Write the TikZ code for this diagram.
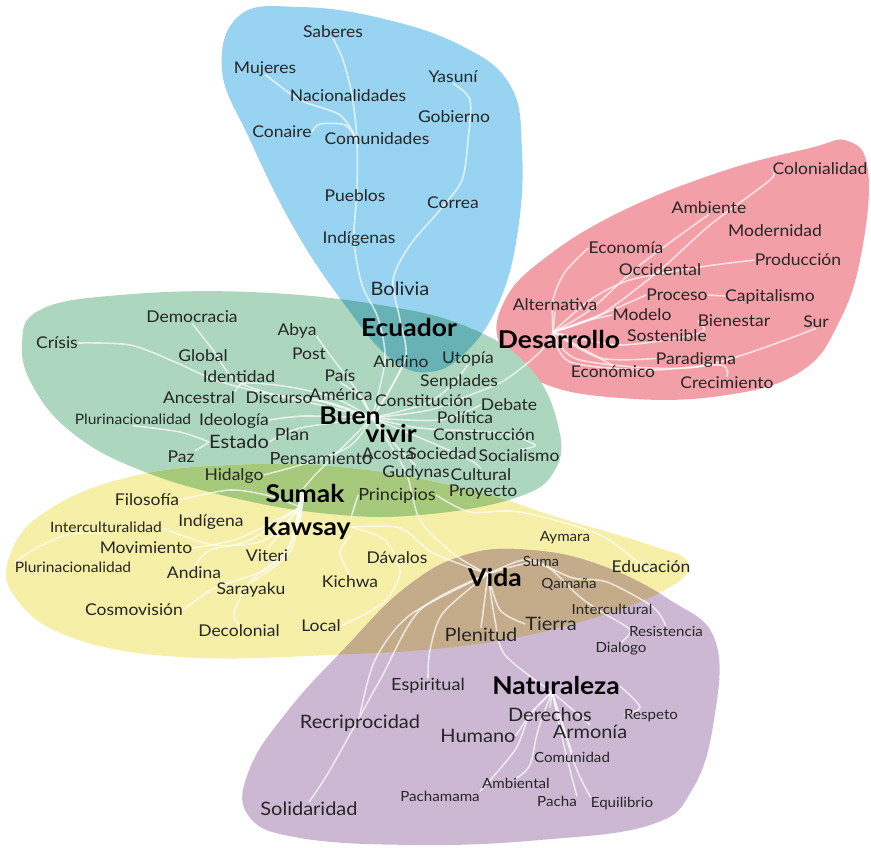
\documentclass[tikz,border=0pt]{standalone}
\usepackage{fontspec}
\setmainfont{Lato}[FakeStretch=1.08]
\usetikzlibrary{backgrounds}
\pgfdeclarelayer{blobs}
\pgfdeclarelayer{links}
\pgfsetlayers{blobs,links,main}
\definecolor{cblue}{HTML}{98D4F1}
\definecolor{cred}{HTML}{F29FA7}
\definecolor{cgreen}{HTML}{ADD6BE}
\definecolor{cyellow}{HTML}{F5EFA7}
\definecolor{cpurple}{HTML}{CCB8D3}
\definecolor{cteal}{HTML}{67B2B4}
\definecolor{cgy}{HTML}{A6C97C}
\definecolor{cbrown}{HTML}{C4AC8A}
\definecolor{txt}{HTML}{262626}
\def\blobBlue{plot[smooth cycle, tension=0.7] coordinates {(240,15) (300,7) (380,18) (460,45) (510,85) (522,150) (518,230) (500,300) (468,350) (430,372) (390,358) (345,305) (295,230) (250,140) (222,70)}}
\def\blobRed{plot[smooth cycle, tension=0.7] coordinates {(848,141) (868,170) (862,250) (840,320) (800,372) (720,396) (620,398) (540,382) (500,345) (505,300) (545,258) (620,212) (720,172) (810,148)}}
\def\blobGreen{plot[smooth cycle, tension=0.7] coordinates {(40,310) (120,295) (250,292) (380,305) (470,328) (530,368) (558,425) (555,470) (515,498) (420,515) (330,514) (230,497) (140,470) (75,435) (35,390) (22,345)}}
\def\blobYellow{plot[smooth cycle, tension=0.7] coordinates {(10,555) (45,512) (125,478) (230,465) (350,468) (470,490) (560,518) (650,545) (688,563) (665,590) (580,622) (470,645) (330,655) (180,657) (70,637) (15,597)}}
\def\blobPurple{plot[smooth cycle, tension=0.7] coordinates {(465,555) (530,550) (600,565) (670,600) (715,640) (714,720) (692,790) (650,825) (540,840) (420,845) (300,838) (248,815) (250,768) (290,708) (345,648) (405,588)}}
\tikzset{
  w/.style={inner sep=0pt, text height=11.7pt, text depth=0.6pt, text=txt, font=\fontsize{16.2}{16.2}\selectfont},
  wn/.style={inner sep=0pt, text height=10.4pt, text depth=0.6pt, text=txt, font=\fontsize{14.4}{14.4}\selectfont},
  xs/.style={inner sep=0pt, text height=10.1pt, text depth=0.6pt, text=txt, font=\fontsize{14}{14}\selectfont},
  mm/.style={inner sep=0pt, text height=12.1pt, text depth=0.7pt, text=txt, font=\fontsize{16.8}{16.8}\selectfont},
  m/.style={inner sep=0pt, text height=13.3pt, text depth=0.7pt, text=txt, font=\fontsize{18.5}{18.5}\selectfont},
  hb/.style={inner sep=0pt, text height=17.1pt, text depth=0pt, text=black, font=\fontsize{24.5}{24.5}\selectfont\bfseries},
  link/.style={draw=white, opacity=0.68, line width=1.6pt},
}
\begin{document}
\begin{tikzpicture}[x=1pt,y=-1pt]
\useasboundingbox (0,0) rectangle (871,848);
% ---------------- blobs
\begin{pgfonlayer}{blobs}
\fill[cblue] \blobBlue;
\fill[cred] \blobRed;
\fill[cgreen] \blobGreen;
\fill[cyellow] \blobYellow;
\fill[cpurple] \blobPurple;
\begin{scope}\clip \blobGreen; \fill[cteal] \blobBlue; \end{scope}
\begin{scope}\clip \blobGreen; \fill[cgy] \blobYellow; \end{scope}
\begin{scope}\clip \blobYellow; \fill[cbrown] \blobPurple; \end{scope}
\end{pgfonlayer}
% ---------------- words: blue
\node[w] (saberes) at (333,32) {Saberes};
\node[w] (mujeres) at (265,68) {Mujeres};
\node[w] (nacionalidades) at (348,96) {Nacionalidades};
\node[w] (yasuni) at (453,77) {Yasuní};
\node[w] (gobierno) at (454,117) {Gobierno};
\node[w] (conaire) at (282,132) {Conaire};
\node[w] (comunidades) at (377,139) {Comunidades};
\node[w] (pueblos) at (355,196) {Pueblos};
\node[w] (correa) at (453,203) {Correa};
\node[w] (indigenas) at (359,238) {Indígenas};
\node[m] (bolivia) at (400,289) {Bolivia};
\node[hb] (ecuador) at (409,328) {Ecuador};
% green
\node[w] (democracia) at (192,317) {Democracia};
\node[w] (crisis) at (57,343) {Crísis};
\node[w] (abya) at (297,330) {Abya};
\node[w] (global) at (203,356) {Global};
\node[w] (post) at (309,354) {Post};
\node[w] (identidad) at (239,377) {Identidad};
\node[w] (pais) at (340,376) {País};
\node[w] (ancestral) at (199,398) {Ancestral};
\node[w] (discurso) at (279,398) {Discurso};
\node[w] (america) at (341,395) {América};
\node[w] (andino) at (401,362) {Andino};
\node[w] (utopia) at (468,358) {Utopía};
\node[w] (senplades) at (459,381) {Senplades};
\node[w] (constitucion) at (424,401) {Constitución};
\node[w] (debate) at (509,405) {Debate};
\node[wn] (pluri1) at (133,420) {Plurinacionalidad};
\node[w] (ideologia) at (234,420) {Ideología};
\node[hb] (buen) at (350,416) {Buen};
\node[hb] (vivir) at (391,433.5) {vivir};
\node[w] (politica) at (465,418) {Política};
\node[m] (estado) at (239,442) {Estado};
\node[mm] (plan) at (292,435) {Plan};
\node[w] (construccion) at (484,435) {Construcción};
\node[w] (acosta) at (388,454) {Acosta};
\node[w] (sociedad) at (442,454) {Sociedad};
\node[w] (socialismo) at (519,456) {Socialismo};
\node[w] (paz) at (181,457) {Paz};
\node[mm] (pensamiento) at (321,459) {Pensamiento};
\node[w] (gudynas) at (416,472) {Gudynas};
\node[w] (cultural) at (481,475) {Cultural};
\node[w] (proyecto) at (483,491) {Proyecto};
\node[w] (hidalgo) at (234,475) {Hidalgo};
% yellow
\node[hb] (sumak) at (305,494) {Sumak};
\node[hb] (kawsay) at (307,527) {kawsay};
\node[mm] (principios) at (397,495) {Principios};
\node[w] (filosofia) at (147,500) {Filosofía};
\node[w] (indigena) at (211,521) {Indígena};
\node[wn] (intercult) at (106,528) {Interculturalidad};
\node[w] (movimiento) at (146,548) {Movimiento};
\node[w] (viteri) at (267,556) {Viteri};
\node[w] (davalos) at (397,558) {Dávalos};
\node[wn] (pluri2) at (73,568) {Plurinacionalidad};
\node[w] (andina) at (194,573) {Andina};
\node[w] (sarayaku) at (251,589) {Sarayaku};
\node[w] (kichwa) at (350,582) {Kichwa};
\node[w] (cosmovision) at (134,610) {Cosmovisión};
\node[w] (decolonial) at (239,631) {Decolonial};
\node[w] (local) at (321,626) {Local};
\node[xs] (aymara) at (565,537) {Aymara};
\node[w] (educacion) at (651,567) {Educación};
% purple
\node[hb] (vida) at (495,578) {Vida};
\node[xs] (suma) at (541,562) {Suma};
\node[xs] (qamana) at (569,584) {Qamaña};
\node[xs] (intercultural) at (612,610) {Intercultural};
\node[m] (tierra) at (551,624) {Tierra};
\node[m] (plenitud) at (481,635) {Plenitud};
\node[xs] (resistencia) at (666,632) {Resistencia};
\node[xs] (dialogo) at (621,648) {Dialogo};
\node[mm] (espiritual) at (428,685) {Espiritual};
\node[hb] (naturaleza) at (556,686) {Naturaleza};
\node[m] (recriprocidad) at (360,722) {Recriprocidad};
\node[m] (derechos) at (550,715) {Derechos};
\node[xs] (respeto) at (651,715) {Respeto};
\node[m] (humano) at (478,736) {Humano};
\node[m] (armonia) at (590,732) {Armonía};
\node[xs] (comunidad) at (572,758) {Comunidad};
\node[xs] (ambiental) at (516,784) {Ambiental};
\node[m] (solidaridad) at (309,809) {Solidaridad};
\node[xs] (pachamama) at (440,797) {Pachamama};
\node[xs] (pacha) at (557,802) {Pacha};
\node[xs] (equilibrio) at (622,803) {Equilibrio};
% red
\node[w] (colonialidad) at (820,169) {Colonialidad};
\node[w] (ambiente) at (709,208) {Ambiente};
\node[w] (modernidad) at (775,231) {Modernidad};
\node[w] (economia) at (626,248) {Economía};
\node[w] (produccion) at (798,260) {Producción};
\node[w] (occidental) at (660,270) {Occidental};
\node[w] (alternativa) at (555,305) {Alternativa};
\node[w] (proceso) at (677,295) {Proceso};
\node[w] (capitalismo) at (770,296) {Capitalismo};
\node[w] (modelo) at (642,315) {Modelo};
\node[w] (bienestar) at (734,321) {Bienestar};
\node[w] (sur) at (816,322) {Sur};
\node[hb] (desarrollo) at (559,340) {Desarrollo};
\node[w] (sostenible) at (667,335.5) {Sostenible};
\node[w] (paradigma) at (696,358.5) {Paradigma};
\node[w] (economico) at (613,372) {Económico};
\node[w] (crecimiento) at (727,383) {Crecimiento};
% hubs
\coordinate (bvhub) at (372,418);
\coordinate (skhub) at (300,507);
\coordinate (vhub) at (488,574);
\coordinate (nhub) at (552,692);
\coordinate (dhub) at (553,332);
\coordinate (bt1) at (357,140);
\coordinate (skt) at (303,489);
\coordinate (skb) at (298,522);
% ---------------- links
\begin{pgfonlayer}{links}
% blue
\draw[link] plot[smooth] coordinates {(saberes.south) (343,60) (352,95) (bt1) (357,190) (354,240) (362,285) (378,318) (385,360) (bvhub)};
\draw[link] plot[smooth] coordinates {(mujeres.south) (300,100) (340,115) (bt1)};
\draw[link] plot[smooth] coordinates {(conaire.east) (320,124) (345,125) (bt1)};
\draw[link] plot[smooth] coordinates {(yasuni.south) (470,100) (468,140) (462,180) (440,210) (410,245) (393,280) (400,320) (405,360) (bvhub)};
% green
\draw[link] plot[smooth] coordinates {(democracia.south) (213,350) (235,380) (275,395) (320,405) (bvhub)};
\draw[link] plot[smooth] coordinates {(crisis.east) (130,345) (175,362) (215,380) (265,393) (330,403) (bvhub)};
\draw[link] plot[smooth] coordinates {(ancestral.north east) (245,383) (290,387) (335,398) (bvhub)};
\draw[link] plot[smooth] coordinates {(discurso.east) (340,407) (bvhub)};
\draw[link] plot[smooth] coordinates {(abya.south east) (330,355) (355,388) (bvhub)};
\draw[link] plot[smooth] coordinates {(pais.south) (362,398) (bvhub)};
\draw[link] plot[smooth] coordinates {(ideologia.east) (305,416) (bvhub)};
\draw[link] plot[smooth] coordinates {(pluri1.south) (180,432) (estado.west)};
\draw[link] plot[smooth] coordinates {(paz.north east) (200,448) (estado.west)};
\draw[link] plot[smooth] coordinates {(estado.east) (300,428) (bvhub)};
\draw[link] plot[smooth] coordinates {(hidalgo.east) (307,463) (350,446) (bvhub)};
\draw[link] plot[smooth] coordinates {(bvhub) (390,390) (andino.south)};
\draw[link] plot[smooth] coordinates {(utopia.south) (452,385) (425,404) (bvhub)};
\draw[link] plot[smooth] coordinates {(dhub) (540,352) (505,380) (470,395) (430,410) (bvhub)};
\draw[link] plot[smooth] coordinates {(bvhub) (420,428) (500,433) (535,445) (socialismo.north)};
\draw[link] plot[smooth] coordinates {(bvhub) (430,442) (470,460) (cultural.north)};
\draw[link] plot[smooth] coordinates {(bvhub) (440,420) (debate.west)};
\draw[link] plot[smooth] coordinates {(bvhub) (400,450) (gudynas.north)};
% centre spines
\draw[link] plot[smooth] coordinates {(bvhub) (340,450) (315,475) (skt)};
\draw[link] plot[smooth] coordinates {(bvhub) (405,470) (420,520) (455,555) (vhub)};
\draw[draw=white, opacity=0.85, line width=5pt] (skt) -- (skb);
% yellow
\draw[link] plot[smooth] coordinates {(filosofia.east) (230,490) (270,496) (skhub)};
\draw[link] plot[smooth] coordinates {(pluri2.north west) (38,547) (70,534) (intercult.south)};
\draw[link] plot[smooth] coordinates {(intercult.east) (215,545) (265,540) (skhub)};
\draw[link] plot[smooth] coordinates {(movimiento.east) (240,538) (skhub)};
\draw[link] plot[smooth] coordinates {(andina.north) (210,550) (250,540) (skhub)};
\draw[link] plot[smooth] coordinates {(cosmovision.east) (215,588) (265,570) (290,545) (skhub)};
\draw[link] plot[smooth] coordinates {(skhub) (290,552) (sarayaku.north)};
\draw[link] plot[smooth] coordinates {(skhub) (288,548) (252,580) (234,612) (decolonial.north)};
\draw[link] plot[smooth] coordinates {(skhub) (viteri.north)};
\draw[link] plot[smooth] coordinates {(kawsay.south east) (340,552) (kichwa.north)};
\draw[link] plot[smooth] coordinates {(kawsay.east) (385,540) (400,572) (383,603) (local.east)};
\draw[link] plot[smooth] coordinates {(kawsay.north east) (principios.west)};
\draw[link] plot[smooth] coordinates {(principios.east) (470,512) (520,512) (600,535) (educacion.south)};
\draw[link] plot[smooth] coordinates {(kawsay.east) (400,528) (433,553) (vhub)};
% vida
\draw[link] plot[smooth] coordinates {(vhub) (523,560) (548,567) (580,597) (605,614) (630,630) (dialogo.north)};
\draw[link] plot[smooth] coordinates {(vhub) (533,563) (573,578) (607,582) (653,607) (resistencia.north)};
\draw[link] plot[smooth] coordinates {(vhub) (500,610) (tierra.west)};
\draw[link] plot[smooth] coordinates {(vhub) (495,620) (505,655) (nhub)};
\draw[link] plot[smooth] coordinates {(vhub) (443,613) (430,650) (espiritual.north)};
\draw[link] plot[smooth] coordinates {(vhub) (420,610) (380,680) (330,770) (solidaridad.north)};
\draw[link] plot[smooth] coordinates {(vhub) (410,615) (375,660) (recriprocidad.north)};
\draw[link] plot[smooth] coordinates {(vhub) (plenitud.north)};
% naturaleza
\draw[link] plot[smooth] coordinates {(nhub) (derechos.north)};
\draw[link] plot[smooth] coordinates {(nhub) (532,712) (humano.east)};
\draw[link] plot[smooth] coordinates {(nhub) (530,715) (515,750) (pachamama.north east)};
\draw[link] plot[smooth] coordinates {(nhub) (538,730) (530,765) (ambiental.north)};
\draw[link] plot[smooth] coordinates {(nhub) (comunidad.north)};
\draw[link] plot[smooth] coordinates {(nhub) (565,750) (pacha.north east)};
\draw[link] plot[smooth] coordinates {(nhub) (575,765) (equilibrio.north west)};
\draw[link] plot[smooth] coordinates {(nhub) (armonia.north)};
\draw[link] plot[smooth] coordinates {(naturaleza.east) (640,707) (respeto.west)};
% desarrollo
\draw[link] plot[smooth] coordinates {(dhub) (553,300) (565,272) (economia.west)};
\draw[link] plot[smooth] coordinates {(dhub) (590,310) (640,265) (ambiente.south)};
\draw[link] plot[smooth] coordinates {(dhub) (600,315) (660,270) (710,225) (770,180) (colonialidad.west)};
\draw[link] plot[smooth] coordinates {(dhub) (590,300) (630,280) (700,267) (produccion.west)};
\draw[link] plot[smooth] coordinates {(dhub) (600,315) (proceso.west)};
\draw[link] (proceso.east) -- (capitalismo.west);
\draw[link] plot[smooth] coordinates {(dhub) (590,320) (modelo.west)};
\draw[link] plot[smooth] coordinates {(dhub) (alternativa.south)};
\draw[link] plot[smooth] coordinates {(dhub) (620,345) (700,333) (bienestar.west)};
\draw[link] plot[smooth] coordinates {(dhub) (580,360) (697,367) (sur.south)};
\draw[link] plot[smooth] coordinates {(dhub) (570,362) (650,370) (720,365) (crecimiento.north)};
\draw[link] plot[smooth] coordinates {(dhub) (economico.north)};
\draw[link] plot[smooth] coordinates {(dhub) (600,358) (paradigma.west)};
\end{pgfonlayer}
\end{tikzpicture}
\end{document}
